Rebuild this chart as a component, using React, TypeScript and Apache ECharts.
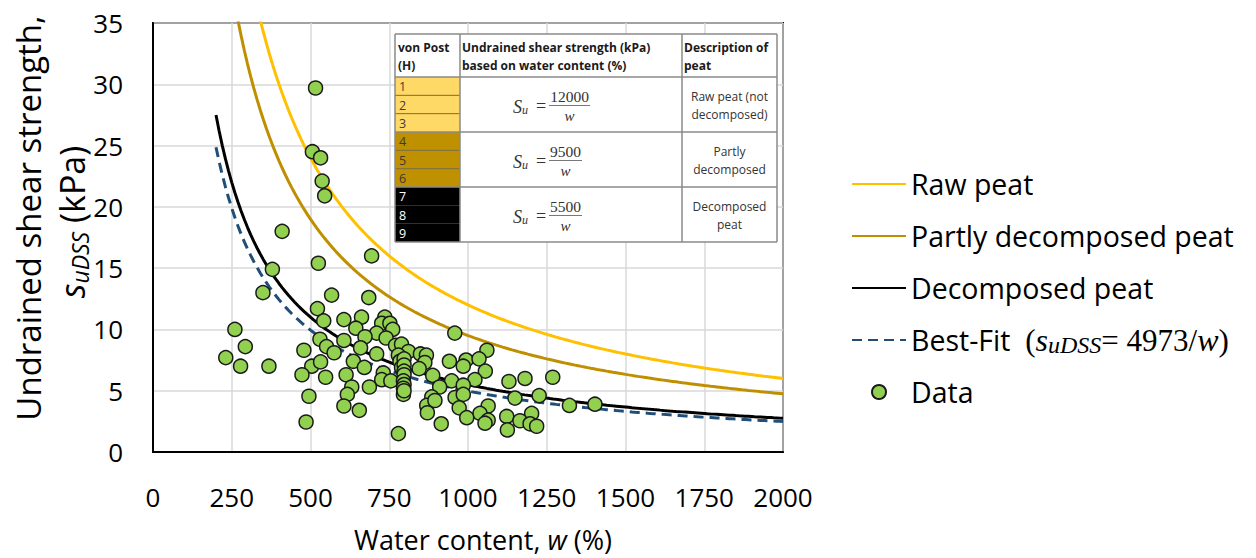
import React, { useEffect, useRef } from 'react';
import * as echarts from 'echarts';

// ---- axes ----
const X_MIN = 0, X_MAX = 2000, X_STEP = 250;
const Y_MIN = 0, Y_MAX = 35, Y_STEP = 5;

// ---- model curves (coefficients as printed in the chart: Su = K / w) ----
const CURVE_NAMES = ['Raw peat', 'Partly decomposed peat', 'Decomposed peat', 'Best-Fit'];
const CURVE_K = [12000, 9500, 5500, 4973];
const CURVE_COLORS = ['#FFC000', '#BF8F00', '#000000', '#1F4E79'];
const CURVE_W_START = 200;
const CURVE_W_END = 2000;
const CURVE_W_STEP = 10;

// ---- measured data (water content %, undrained shear strength kPa) ----
const DATA_W = [
  516, 506, 532, 537, 545, 410, 694, 525, 379, 349,
  567, 685, 522, 542, 606, 662, 736, 726, 752, 761,
  260, 644, 710, 673, 740, 530, 606, 958, 293, 551,
  659, 770, 789, 479, 575, 710, 811, 779, 849, 868,
  1060, 231, 278, 368, 504, 532, 636, 784, 863, 941,
  994, 1035, 671, 789, 845, 985, 1055, 797, 797, 797,
  473, 548, 613, 731, 797, 888, 726, 755, 795, 1022,
  948, 1130, 1181, 1269, 797, 631, 687, 795, 910, 985,
  617, 795, 885, 959, 985, 1149, 1226, 495, 797, 606,
  869, 895, 972, 1064, 1322, 1403, 655, 871, 1038, 1202,
  1123, 996, 486, 779, 915, 1064, 1054, 1165, 1197, 1218,
  1125,
];
const DATA_S = [
  29.7, 24.5, 24.0, 22.1, 20.9, 18.0, 16.0, 15.4, 14.9, 13.0,
  12.8, 12.6, 11.7, 10.7, 10.8, 11.0, 11.0, 10.5, 10.5, 10.0,
  10.0, 10.1, 9.7, 9.4, 9.3, 9.2, 9.1, 9.7, 8.6, 8.6,
  8.5, 8.7, 8.8, 8.3, 8.1, 8.0, 8.2, 7.9, 8.0, 7.9,
  8.3, 7.7, 7.0, 7.0, 7.0, 7.35, 7.4, 7.4, 7.3, 7.4,
  7.5, 7.6, 6.9, 6.9, 6.8, 7.0, 6.6, 7.6, 7.1, 6.6,
  6.3, 6.1, 6.3, 6.45, 6.3, 6.25, 5.9, 5.8, 5.8, 5.9,
  5.8, 5.75, 6.0, 6.1, 5.5, 5.3, 5.3, 5.2, 5.3, 5.45,
  4.7, 4.7, 4.5, 4.45, 4.7, 4.4, 4.6, 4.55, 5.0, 3.75,
  3.8, 4.2, 3.6, 3.75, 3.8, 3.9, 3.4, 3.2, 3.15, 3.15,
  2.9, 2.8, 2.45, 1.5, 2.3, 2.6, 2.35, 2.55, 2.3, 2.1,
  1.8,
];

// ---- inset table content ----
const TABLE_HEADERS = [
  ['von Post', '(H)'],
  ['Undrained shear strength (kPa)', 'based on water content (%)'],
  ['Description of', 'peat'],
];
const VON_POST = ['1', '2', '3', '4', '5', '6', '7', '8', '9'];
const GROUP_FILLS = ['#FFD966', '#BF9000', '#000000'];
const GROUP_TEXT = ['#3a3a3a', '#3a3a3a', '#ffffff'];
const FORMULA_NUM = ['12000', '9500', '5500'];
const DESCRIPTIONS = [
  ['Raw peat (not', 'decomposed)'],
  ['Partly', 'decomposed'],
  ['Decomposed', 'peat'],
];

const SANS = "'Open Sans', 'Noto Sans', sans-serif";
const SERIF = "'Liberation Serif', 'DejaVu Serif', serif";

function buildTable(): any[] {
  const L = 395, R = 777, T = 34, B = 242;
  const C1 = 460, C2 = 682, H = 77;
  const rowH = (B - H) / 3;
  const subH = rowH / 3;
  const grid = '#8a8a8a';
  const els: any[] = [];
  const z = 100;
  els.push({ type: 'rect', z, shape: { x: L, y: T, width: R - L, height: B - T }, style: { fill: '#ffffff' } });
  VON_POST.forEach((d, i) => {
    const g = Math.floor(i / 3);
    const y = H + i * subH;
    els.push({ type: 'rect', z, shape: { x: L, y, width: C1 - L, height: subH }, style: { fill: GROUP_FILLS[g] } });
    els.push({
      type: 'text', z: z + 2, x: L + 4, y: y + subH / 2 + 0.5,
      style: { text: d, fontSize: 12.5, fontFamily: SANS, fill: GROUP_TEXT[g], textAlign: 'left', textVerticalAlign: 'middle' },
    });
    if (g < 2 && i % 3 !== 2) {
      els.push({ type: 'line', z: z + 1, shape: { x1: L, y1: y + subH, x2: C1, y2: y + subH }, style: { stroke: '#7a6a3a', lineWidth: 1 } });
    }
  });
  const lines: number[][] = [
    [L, T, R, T], [L, B, R, B], [L, T, L, B], [R, T, R, B],
    [C1, T, C1, B], [C2, T, C2, B],
    [L, H, R, H], [L, H + rowH, R, H + rowH], [L, H + 2 * rowH, R, H + 2 * rowH],
  ];
  lines.forEach(([x1, y1, x2, y2]) => {
    els.push({ type: 'line', z: z + 3, shape: { x1, y1, x2, y2 }, style: { stroke: grid, lineWidth: 1.5 } });
  });
  const hx = [L + 3, C1 + 2, C2 + 2];
  TABLE_HEADERS.forEach((lns, c) => {
    lns.forEach((t, k) => {
      els.push({
        type: 'text', z: z + 2, x: hx[c], y: 47 + k * 18.7,
        style: { text: t, fontSize: 12, fontWeight: 'bold', fontFamily: SANS, fill: '#1a1a1a', textAlign: 'left', textVerticalAlign: 'middle' },
      });
    });
  });
  const fracW = [41, 33, 33];
  FORMULA_NUM.forEach((num, r) => {
    const cy = H + rowH * r + rowH / 2;
    const fx = 549;
    els.push({
      type: 'text', z: z + 2, x: 513, y: cy + 2,
      style: { text: '{s|S}{u|u}', fill: '#333', textAlign: 'left', textVerticalAlign: 'middle',
        rich: {
          s: { fontSize: 18, fontStyle: 'italic', fontFamily: SERIF, fill: '#333', lineHeight: 18 },
          u: { fontSize: 12, fontStyle: 'italic', fontFamily: SERIF, fill: '#333', lineHeight: 10, verticalAlign: 'bottom' },
        } },
    });
    els.push({
      type: 'text', z: z + 2, x: 541, y: cy + 1,
      style: { text: '=', fontSize: 18, fontFamily: SERIF, fill: '#333', textAlign: 'center', textVerticalAlign: 'middle' },
    });
    els.push({
      type: 'text', z: z + 2, x: fx + fracW[r] / 2, y: cy - 8.5,
      style: { text: num, fontSize: 15.5, fontFamily: SERIF, fill: '#333', textAlign: 'center', textVerticalAlign: 'middle' },
    });
    els.push({ type: 'line', z: z + 2, shape: { x1: fx, y1: cy + 1, x2: fx + fracW[r], y2: cy + 1 }, style: { stroke: '#555', lineWidth: 0.8 } });
    els.push({
      type: 'text', z: z + 2, x: fx + fracW[r] / 2, y: cy + 11,
      style: { text: 'w', fontSize: 15, fontStyle: 'italic', fontFamily: SERIF, fill: '#333', textAlign: 'center', textVerticalAlign: 'middle' },
    });
    DESCRIPTIONS[r].forEach((t, k) => {
      els.push({
        type: 'text', z: z + 2, x: (C2 + R) / 2, y: cy - 8.5 + k * 18,
        style: { text: t, fontSize: 12, fontFamily: SANS, fill: '#333', textAlign: 'center', textVerticalAlign: 'middle' },
      });
    });
  });
  return els;
}

function buildOption(): any {
  const wSamples: number[] = [];
  for (let w = CURVE_W_START; w <= CURVE_W_END; w += CURVE_W_STEP) wSamples.push(w);

  const curveSeries = CURVE_NAMES.map((name, i) => ({
    name,
    type: 'line',
    data: wSamples.map((w) => [w, CURVE_K[i] / w]),
    symbol: 'none',
    smooth: false,
    clip: true,
    z: 2,
    itemStyle: { color: CURVE_COLORS[i] },
    lineStyle: { color: CURVE_COLORS[i], width: 3, type: name === 'Best-Fit' ? [10, 6] : 'solid' },
  }));

  const scatter = {
    name: 'Data',
    type: 'scatter',
    data: DATA_W.map((w, i) => [w, DATA_S[i]]),
    symbol: 'circle',
    symbolSize: 14,
    z: 3,
    itemStyle: { color: '#92D050', borderColor: '#1a1a1a', borderWidth: 1.5, opacity: 1 },
  };

  const graphics: any[] = [
    {
      type: 'text', x: 28, y: 218, rotation: Math.PI / 2, z: 50,
      style: { text: 'Undrained shear strength,', fontSize: 33, fontFamily: SANS, fill: '#000', textAlign: 'center', textVerticalAlign: 'middle' },
    },
    {
      type: 'text', x: 72, y: 222, rotation: Math.PI / 2, z: 50,
      style: {
        text: '{s|s}{sub|uDSS}{n| (kPa)}', fill: '#000', textAlign: 'center', textVerticalAlign: 'middle',
        rich: {
          s: { fontSize: 34, fontStyle: 'italic', fontFamily: SANS, fill: '#000', lineHeight: 38 },
          sub: { fontSize: 23, fontStyle: 'italic', fontFamily: SANS, fill: '#000', lineHeight: 24, verticalAlign: 'bottom' },
          n: { fontSize: 34, fontFamily: SANS, fill: '#000', lineHeight: 38 },
        },
      },
    },
    ...buildTable(),
  ];

  const lineLegendItem = (name: string) => ({ name, itemStyle: { opacity: 0 } });

  return {
    animation: false,
    backgroundColor: '#ffffff',
    grid: { left: 153, right: 473, top: 23, bottom: 106, show: true, borderColor: '#000', borderWidth: 2, backgroundColor: 'transparent' },
    xAxis: {
      type: 'value', min: X_MIN, max: X_MAX, interval: X_STEP,
      axisLine: { show: true, onZero: false, lineStyle: { color: '#000', width: 2 } },
      axisTick: { show: false },
      splitLine: { show: true, lineStyle: { color: '#d9d9d9', width: 1.5 } },
      axisLabel: { fontSize: 26, fontFamily: SANS, color: '#000', margin: 32, formatter: (v: number) => String(v) },
      name: 'Water content, {i|w} (%)',
      nameLocation: 'middle',
      nameGap: 74,
      nameTextStyle: {
        fontSize: 27, fontFamily: SANS, color: '#000', padding: [0, 0, 0, 30],
        rich: { i: { fontSize: 27, fontStyle: 'italic', fontFamily: SANS, color: '#000' } },
      },
    },
    yAxis: {
      type: 'value', min: Y_MIN, max: Y_MAX, interval: Y_STEP,
      axisLine: { show: true, onZero: false, lineStyle: { color: '#000', width: 2 } },
      axisTick: { show: false },
      splitLine: { show: true, lineStyle: { color: '#d9d9d9', width: 1.5 } },
      axisLabel: { fontSize: 26, fontFamily: SANS, color: '#000', margin: 30, formatter: (v: number) => String(v) },
    },
    legend: {
      orient: 'vertical', left: 851, top: 167, padding: 0, itemWidth: 54, itemHeight: 14, itemGap: 18,
      data: [
        lineLegendItem('Raw peat'),
        lineLegendItem('Partly decomposed peat'),
        lineLegendItem('Decomposed peat'),
        lineLegendItem('Best-Fit'),
        { name: 'Data' },
      ],
      formatter: (name: string) =>
        name === 'Best-Fit' ? 'Best-Fit  {m|(}{si|s}{sub|uDSS}{m|= 4973/}{si|w}{m|)}' : name,
      textStyle: {
        fontFamily: SANS, fontSize: 28.5, color: '#000', lineHeight: 34,
        rich: {
          m: { fontFamily: SERIF, fontSize: 31, color: '#000', lineHeight: 34 },
          si: { fontFamily: SERIF, fontSize: 32, fontStyle: 'italic', color: '#000', lineHeight: 34 },
          sub: { fontFamily: SERIF, fontSize: 24, fontStyle: 'italic', color: '#000', lineHeight: 24, verticalAlign: 'bottom' },
        },
      },
    },
    series: [...curveSeries, scatter],
    graphic: { elements: graphics },
  };
}

export default function App() {
  const ref = useRef<HTMLDivElement>(null);
  useEffect(() => {
    document.body.style.margin = '0';
    const chart = echarts.init(ref.current!, null, { renderer: 'svg' });
    chart.setOption(buildOption());
    return () => chart.dispose();
  }, []);
  return <div ref={ref} style={{ width: 1256, height: 558 }} />;
}
